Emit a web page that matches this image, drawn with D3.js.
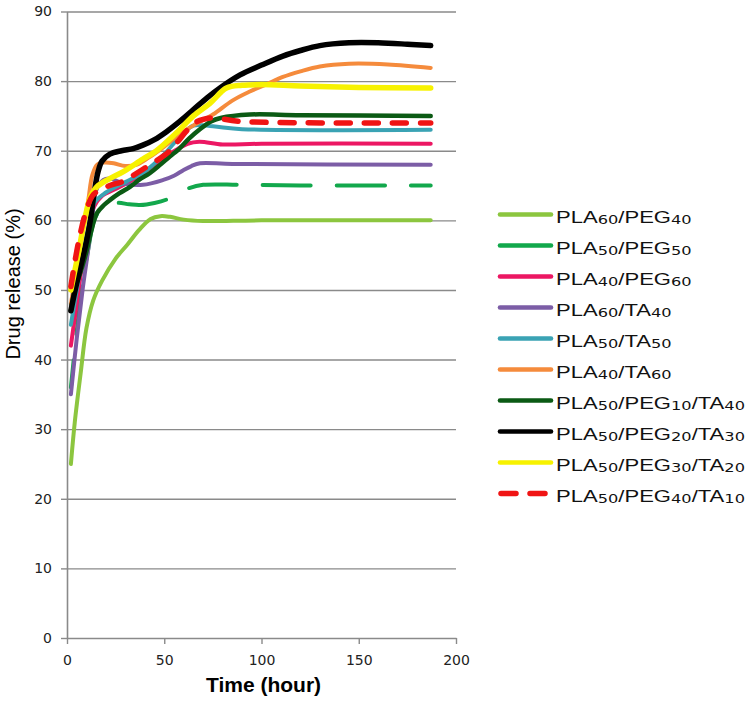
<!DOCTYPE html>
<html>
<head>
<meta charset="utf-8">
<script src="https://cdn.jsdelivr.net/npm/d3@7"></script>
<style>
  body { margin: 0; background: #fff; }
  svg { display: block; }
</style>
</head>
<body>
<svg width="750" height="704"></svg>
<script>
// [time (hour), drug release (%)]
let pla60peg40 = [[2,25],[4,31],[7,38],[10,44.5],[13.5,48.5],[18,51.3],[25,54.5],[31,56.5],[37,58.6],[43,60.2],[48,60.6],[53,60.5],[60,60.1],[70,59.9],[100,60],[187,60]]
let pla50peg50 = [[2,36],[5,44],[8,51],[11,56],[14,60],[18,61.8],[25.5,62.5],[32,62.3],[37.5,62.2],[45,62.5],[51.3,63],[57,63.9],[62.4,64.6],[70,65.1],[89,65.1],[120,65],[187,65]]
let pla40peg60 = [[2,42],[5,48],[8,54],[11,58.5],[14,62],[18,63.5],[25,64.5],[35,66],[45,68],[52,69.4],[56,70.1],[62,71],[68,71.3],[80,70.9],[100,71],[187,71]]
let pla60ta40 = [[2,35],[5,43],[8,50],[11,56],[13,60.5],[15,64.3],[18.7,65.8],[22,66],[29,65.3],[39,65.1],[49.5,65.8],[55,66.4],[59.8,67.2],[64,67.8],[68.4,68.2],[85,68.1],[187,68]]
let pla50ta50 = [[2,45],[5,50],[8,55],[11,59],[14,62.5],[20,64],[30,65.5],[40,67],[50,69.5],[58,72],[65,73.6],[75,73.5],[90,73.1],[187,73]]
let pla40ta60 = [[2,48],[5,53],[8,58],[11,63],[13,66.5],[15.5,68],[19,68.3],[24,68.2],[30,67.8],[36,68],[42,69],[50,70.6],[58,72.4],[66,73.8],[75,75.2],[85,77.2],[94,78.5],[103,79.6],[111,80.6],[120,81.4],[130,82.1],[145,82.5],[165,82.4],[187,81.9]]
let pla50peg10ta40 = [[2,47],[4,50],[7,52.6],[10,55.5],[12.5,58.5],[15.3,61],[19,62.2],[22,62.9],[27,63.9],[32.4,64.8],[37,65.8],[42.7,66.8],[48,68],[53,69.2],[57,70.1],[63,71.8],[68,73],[74,74.2],[79,74.7],[94,75.2],[120,75.1],[187,75]]
let pla50peg20ta30 = [[2,47],[5,51],[8,54.5],[10,57],[12,60],[14,64],[16,67],[18,68.5],[22,69.5],[28,70],[34,70.3],[39,70.8],[45,71.6],[51,72.7],[58,74.2],[65,75.9],[72,77.6],[79,79.1],[89,80.9],[100,82.3],[111,83.6],[120,84.4],[130,85.1],[145,85.5],[160,85.5],[175,85.3],[187,85.1]]
let pla50peg30ta20 = [[2,50],[6,55.5],[9,60],[12,63.3],[15.3,64.8],[22,66],[29,67],[39,68.8],[46,70],[56,72.5],[65,75],[73.5,76.8],[82,79],[90,79.4],[100,79.5],[120,79.3],[150,79.1],[187,79]]
let pla50peg40ta10 = [[2,50.5],[6,57],[10,61.5],[13,63.5],[15.3,64.1],[22,65],[29,65.6],[36,66.8],[42.7,68],[51.3,69.6],[56,71],[61,72.7],[65,73.9],[70,74.5],[75,74.7],[90,74.2],[187,74]]

let seriesData = [pla60peg40, pla50peg50, pla40peg60, pla60ta40, pla50ta50, pla40ta60, pla50peg10ta40, pla50peg20ta30, pla50peg30ta20, pla50peg40ta10]

// label pieces: normal, subscript, normal, subscript ...
let seriesLabels = [
  ["PLA","60","/PEG","40"],
  ["PLA","50","/PEG","50"],
  ["PLA","40","/PEG","60"],
  ["PLA","60","/TA","40"],
  ["PLA","50","/TA","50"],
  ["PLA","40","/TA","60"],
  ["PLA","50","/PEG","10","/TA","40"],
  ["PLA","50","/PEG","20","/TA","30"],
  ["PLA","50","/PEG","30","/TA","20"],
  ["PLA","50","/PEG","40","/TA","10"]
]

let xTicks = [0, 50, 100, 150, 200]
let yTicks = [0, 10, 20, 30, 40, 50, 60, 70, 80, 90]

let colors = ["#8cc63f", "#12a84c", "#ec1763", "#7c5da6", "#3aa3b4", "#f58b3c", "#0b5a14", "#000000", "#f7f200", "#f01414"]
let widths = [4, 4, 4, 4, 4, 4, 4.5, 5.5, 5.5, 5.5]
let dashes = [null, "48,26", null, null, null, null, null, null, null, "14,14"]

let svg = d3.select("svg")

let x = d3.scaleLinear().domain([0, 200]).range([67, 456])
let y = d3.scaleLinear().domain([0, 90]).range([638, 11.5])

let axisGrey = "#8a8a8a"

// horizontal gridlines
svg.append("g")
   .attr("transform", "translate(67,0)")
   .call(d3.axisLeft(y).tickValues(yTicks.slice(1)).tickSize(-(456 - 67)).tickFormat(""))
   .call(g => g.select(".domain").remove())
   .call(g => g.selectAll("line").attr("stroke", axisGrey).attr("stroke-width", 1.4))

// y axis
let yAxis = svg.append("g")
               .attr("transform", "translate(67,0)")
               .call(d3.axisLeft(y).tickValues(yTicks).tickSize(6).tickSizeOuter(0).tickPadding(9))

// x axis
let xAxis = svg.append("g")
               .attr("transform", "translate(0,638)")
               .call(d3.axisBottom(x).tickValues(xTicks).tickSize(6).tickSizeOuter(0).tickPadding(11))

;[yAxis, xAxis].forEach(a => {
  a.select(".domain").attr("stroke", axisGrey).attr("stroke-width", 1.6)
  a.selectAll(".tick line").attr("stroke", axisGrey).attr("stroke-width", 1.4)
  a.selectAll(".tick text")
   .attr("fill", "#222")
   .style("font-family", "'DejaVu Sans', Verdana, sans-serif")
   .style("font-size", "14px")
})

svg.append("text")
   .text("Time (hour)")
   .attr("x", 263.5)
   .attr("y", 692)
   .attr("text-anchor", "middle")
   .style("font-family", "'Liberation Sans', Arial, sans-serif")
   .style("font-weight", "bold")
   .style("font-size", "21px")

svg.append("text")
   .text("Drug release (%)")
   .attr("transform", "translate(20,284) rotate(-90)")
   .attr("text-anchor", "middle")
   .style("font-family", "'Liberation Sans', Arial, sans-serif")
   .style("font-size", "20px")

let line = d3.line()
             .x(d => x(d[0]))
             .y(d => y(d[1]))
             .curve(d3.curveCatmullRom.alpha(0.5))

let paths = svg.append("g")
               .selectAll("path")
               .data(seriesData)
               .enter()
               .append("path")
               .attr("d", line)
               .attr("fill", "none")
               .attr("stroke", (d, i) => colors[i])
               .attr("stroke-width", (d, i) => widths[i])
               .attr("stroke-linecap", "round")
               .attr("stroke-linejoin", "round")
               .attr("stroke-dasharray", (d, i) => dashes[i])

// line up the first visible green dash with the picture (starts near t = 25.5)
let greenPath = paths.filter((d, i) => i === 1).node()
let total = greenPath.getTotalLength()
let lo = 0, hi = total
for (let k = 0; k < 30; k++) {
  let mid = (lo + hi) / 2
  if (greenPath.getPointAtLength(mid).x < x(25.5)) lo = mid
  else hi = mid
}
let period = 74
d3.select(greenPath).attr("stroke-dashoffset", period - ((lo + 2) % period))

// legend
let legend = svg.append("g")

let items = legend.selectAll("g")
                  .data(seriesLabels)
                  .enter()
                  .append("g")
                  .attr("transform", (d, i) => "translate(0," + (214.5 + i * 31) + ")")

items.append("line")
     .attr("x1", (d, i) => i === 9 ? 501 : 500)
     .attr("x2", 551)
     .attr("stroke", (d, i) => colors[i])
     .attr("stroke-width", (d, i) => i === 9 ? 5.5 : 4.6)
     .attr("stroke-linecap", "round")
     .attr("stroke-dasharray", (d, i) => i === 9 ? "15,14" : null)

let labels = items.append("text")
                  .attr("y", 8)
                  .style("font-family", "'Liberation Sans', Arial, sans-serif")
                  .style("font-size", "17px")
                  .attr("fill", "#111")

labels.each(function (parts) {
  let t = d3.select(this)
  parts.forEach((p, j) => {
    let span = t.append("tspan").text(p)
    if (j % 2 === 1) {
      span.style("font-size", "12.5px")
          .style("font-family", "'DejaVu Sans', Verdana, sans-serif")
          .attr("dy", 1)
    } else if (j > 0) {
      span.attr("dy", -1)
    }
  })
})

// the legend lettering in the figure is stretched sideways
let refWidth = labels.filter((d, i) => i === 6).node().getComputedTextLength()
let sx = 189 / refWidth
labels.attr("transform", "translate(556,0) scale(" + sx + ",1)")
</script>
</body>
</html>
